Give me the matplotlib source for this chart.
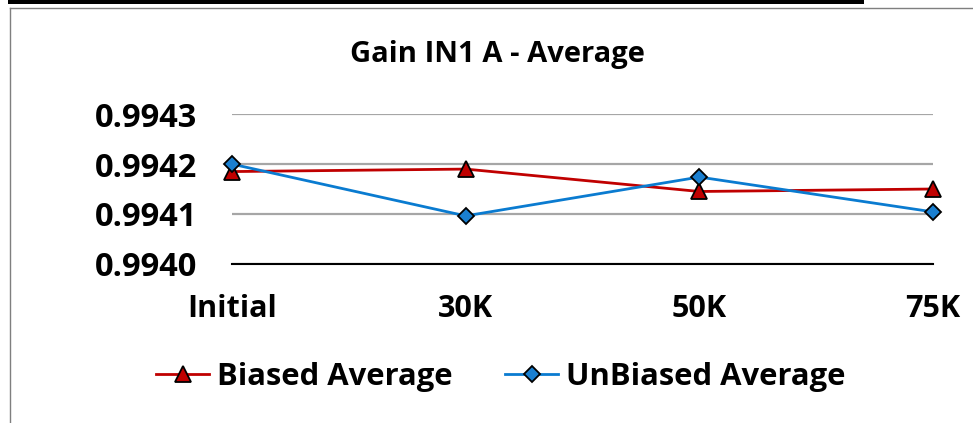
import matplotlib
matplotlib.use("Agg")
import matplotlib.pyplot as plt
from matplotlib.lines import Line2D
from matplotlib.patches import Rectangle

categories = ["Initial", "30K", "50K", "75K"]
biased = [0.994185, 0.994190, 0.994145, 0.994150]
unbiased = [0.994200, 0.994096, 0.994174, 0.994104]
yticks = [0.9940, 0.9941, 0.9942, 0.9943]

plt.rcParams['font.family'] = ['Open Sans', 'DejaVu Sans']
plt.rcParams['font.weight'] = 'bold'

W, H = 973, 423
fig = plt.figure(figsize=(W / 100, H / 100), dpi=100)

def fx(px):
    return px / W

def fy(py):
    return 1 - py / H

# frame decorations
fig.add_artist(Rectangle((fx(8), fy(4)), fx(864) - fx(8), fy(0) - fy(4),
                         transform=fig.transFigure, color='black', lw=0))
fig.add_artist(Line2D([fx(9.5), fx(9.5)], [fy(8.5), fy(423)], transform=fig.transFigure,
                      color='#7f7f7f', lw=1.0))
fig.add_artist(Line2D([fx(9.5), fx(973)], [fy(8.5), fy(8.5)], transform=fig.transFigure,
                      color='#7f7f7f', lw=1.0))

left, right = fx(232), fx(933)
bottom, top = fy(263.7), fy(114.3)
ax = fig.add_axes([left, bottom, right - left, top - bottom])

x = list(range(len(categories)))
ax.set_xlim(0, len(categories) - 1)
ax.set_ylim(yticks[0], yticks[-1])
ax.set_yticks(yticks)
ax.set_yticklabels([f"{v:.4f}" for v in yticks])
ax.set_xticks(x)
ax.set_xticklabels(categories)

ax.grid(axis='y', color='#a6a6a6', lw=1.6)
ax.set_axisbelow(True)
for s in ['left', 'right', 'top']:
    ax.spines[s].set_visible(False)
ax.spines['bottom'].set_color('black')
ax.spines['bottom'].set_linewidth(1.5)
ax.spines['bottom'].set_zorder(1)

ax.tick_params(axis='y', length=0, pad=25, labelsize=23.5)
ax.tick_params(axis='x', length=0, pad=22, labelsize=22)
for lbl in ax.get_xticklabels() + ax.get_yticklabels():
    lbl.set_fontweight('bold')

l1, = ax.plot(x, biased, color='#c00000', lw=2.0, marker='^', ms=11,
              markerfacecolor='#c00000', markeredgecolor='black', markeredgewidth=1.3,
              clip_on=False, zorder=3, label='Biased Average')
l2, = ax.plot(x, unbiased, color='#0a7bd0', lw=2.0, marker='D', ms=8,
              markerfacecolor='#1a7fd0', markeredgecolor='black', markeredgewidth=1.3,
              clip_on=False, zorder=4, label='UnBiased Average')

fig.text(fx(497.5), fy(62), "Gain IN1 A - Average", ha='center', va='baseline',
         fontsize=21, fontweight='bold')

leg = fig.legend(handles=[l1, l2], loc='center', bbox_to_anchor=(fx(501), fy(377)),
                 ncol=2, frameon=False, fontsize=22.3, handlelength=1.7,
                 handletextpad=0.26, columnspacing=1.7, borderpad=0, borderaxespad=0)
for t in leg.get_texts():
    t.set_fontweight('bold')

fig.savefig("out.png", dpi=100)
